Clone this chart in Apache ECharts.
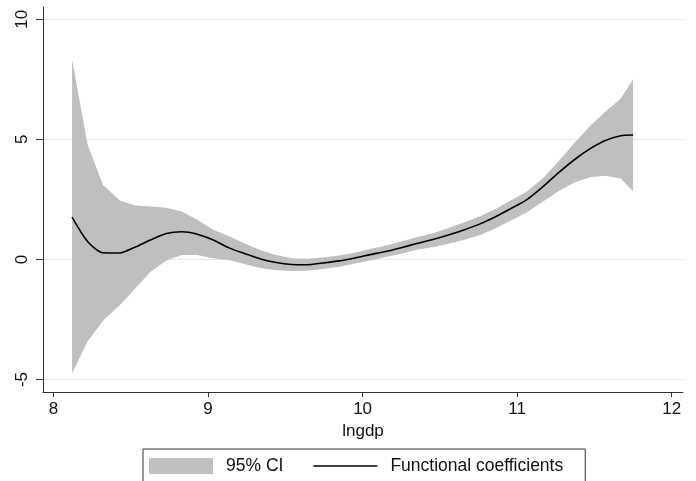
<!DOCTYPE html>
<html>
<head>
<meta charset="utf-8">
<script src="https://cdn.jsdelivr.net/npm/echarts@6/dist/echarts.min.js"></script>
<style>
  html, body { margin: 0; padding: 0; background: #fff; }
  #main { width: 696px; height: 481px; }
</style>
</head>
<body>
<div id="main"></div>
<script>
// lngdp grid and estimates
var lngdp = [8.12, 8.22, 8.32, 8.43, 8.53, 8.63, 8.73, 8.83, 8.93, 9.03,
    9.14, 9.24, 9.34, 9.44, 9.54, 9.64, 9.74, 9.85, 9.95, 10.05,
    10.15, 10.25, 10.35, 10.46, 10.56, 10.66, 10.76, 10.86, 10.96, 11.06,
    11.17, 11.27, 11.37, 11.47, 11.57, 11.67, 11.75];
var coef = [1.76, 0.75, 0.28, 0.27, 0.52, 0.82, 1.08, 1.15, 1.05, 0.82,
    0.47, 0.24, 0.02, -0.13, -0.21, -0.22, -0.15, -0.06, 0.06, 0.20,
    0.33, 0.49, 0.66, 0.84, 1.03, 1.24, 1.48, 1.78, 2.12, 2.48,
    3.05, 3.62, 4.15, 4.60, 4.95, 5.15, 5.18];
var lower = [-4.74, -3.42, -2.55, -1.90, -1.20, -0.50, -0.05, 0.18, 0.18, 0.05,
    -0.03, -0.20, -0.36, -0.45, -0.48, -0.47, -0.40, -0.30, -0.17, -0.04,
    0.10, 0.24, 0.40, 0.52, 0.66, 0.82, 1.02, 1.30, 1.62, 1.95,
    2.42, 2.85, 3.20, 3.42, 3.48, 3.37, 2.83];
var upper = [8.32, 4.80, 3.10, 2.45, 2.25, 2.20, 2.15, 2.00, 1.65, 1.25,
    0.95, 0.65, 0.38, 0.18, 0.05, 0.03, 0.08, 0.16, 0.28, 0.43,
    0.58, 0.75, 0.92, 1.10, 1.32, 1.55, 1.80, 2.10, 2.45, 2.82,
    3.40, 4.10, 4.85, 5.55, 6.15, 6.70, 7.49];
var xTicks = [8, 9, 10, 11, 12];
var yTicks = [-5, 0, 5, 10];

var font = 'Liberation Sans, Arial, Helvetica, sans-serif';
var bandColor = '#bfbfbf';

var coefData = lngdp.map(function (x, i) { return [x, coef[i]]; });

// the CI band: one polygon, upper edge forward then lower edge back
function renderBand(params, api) {
    var pts = [];
    for (var i = 0; i < lngdp.length; i++) {
        pts.push(api.coord([lngdp[i], upper[i]]));
    }
    for (var j = lngdp.length - 1; j >= 0; j--) {
        pts.push(api.coord([lngdp[j], lower[j]]));
    }
    return {
        type: 'polygon',
        shape: { points: pts },
        style: { fill: bandColor, stroke: null }
    };
}

var myChart = echarts.init(document.getElementById('main'));

var option = {
    animation: false,
    backgroundColor: '#fff',
    textStyle: { fontFamily: font },
    grid: {
        left: 43,
        right: 13,
        top: 7,
        bottom: 89
    },
    legend: {
        left: 143,
        top: 449,
        padding: [8, 22, 30, 6],
        itemGap: 30,
        itemWidth: 64,
        itemHeight: 16,
        borderColor: '#333',
        borderWidth: 1,
        borderRadius: 0,
        textStyle: { fontSize: 17.5, color: '#111', fontFamily: font, padding: [0, 0, 0, 8] },
        data: [
            { name: '95% CI', icon: 'rect', itemStyle: { color: bandColor } },
            { name: 'Functional coefficients', icon: 'path://M0,0H40V1H0Z', itemStyle: { color: '#000' } }
        ]
    },
    xAxis: {
        type: 'value',
        min: 7.932,
        max: 12.073,
        name: 'lngdp',
        nameLocation: 'middle',
        nameGap: 26,
        nameTextStyle: { fontSize: 17, color: '#111', fontFamily: font },
        axisLine: { onZero: false, lineStyle: { color: '#333', width: 1 } },
        axisTick: { show: true, length: 5, customValues: xTicks, lineStyle: { color: '#333' } },
        axisLabel: { customValues: xTicks, fontSize: 17, color: '#111', margin: 9 },
        splitLine: { show: false }
    },
    yAxis: {
        type: 'value',
        min: -5.52,
        max: 10.51,
        axisLine: { show: true, onZero: false, lineStyle: { color: '#333', width: 1 } },
        axisTick: { show: true, length: 7, customValues: yTicks, lineStyle: { color: '#333' } },
        axisLabel: { customValues: yTicks, fontSize: 17, color: '#111', rotate: 90, margin: 12 },
        splitLine: { show: true, lineStyle: { color: '#e6e6e6', width: 1 } }
    },
    series: [
        {
            name: '95% CI',
            type: 'custom',
            renderItem: renderBand,
            data: [0],
            color: bandColor,
            silent: true,
            z: 2
        },
        {
            name: 'Functional coefficients',
            type: 'line',
            data: coefData,
            symbol: 'none',
            smooth: 0.25,
            color: '#000',
            lineStyle: { color: '#000', width: 1.6 },
            z: 3
        }
    ]
};

myChart.setOption(option);
</script>
</body>
</html>
